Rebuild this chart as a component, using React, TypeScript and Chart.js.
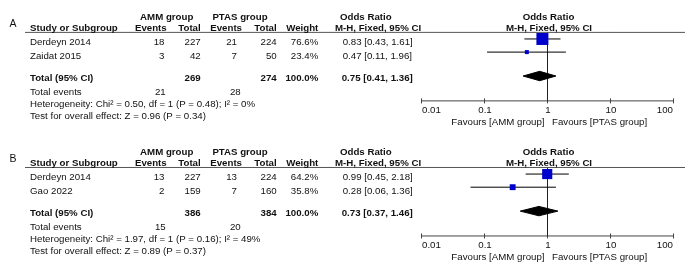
import React, { useEffect, useRef } from 'react';
import { Chart, registerables } from 'chart.js';

Chart.register(...registerables);

// ---------- Panel A data ----------
const studiesA = ['Derdeyn 2014', 'Zaidat 2015'];
const ammEventsA = [18, 3];
const ammTotalA = [227, 42];
const ptasEventsA = [21, 7];
const ptasTotalA = [224, 50];
const weightsA = [76.6, 23.4];
const oddsA = [0.83, 0.47];
const lowA = [0.43, 0.11];
const highA = [1.61, 1.96];
const pooledA = [0.75, 0.41, 1.36];
const totalsA = [269, 274];
const totalEventsA = [21, 28];
const heterogeneityA = 'Heterogeneity: Chi² = 0.50, df = 1 (P = 0.48); I² = 0%';
const overallA = 'Test for overall effect: Z = 0.96 (P = 0.34)';

// ---------- Panel B data ----------
const studiesB = ['Derdeyn 2014', 'Gao 2022'];
const ammEventsB = [13, 2];
const ammTotalB = [227, 159];
const ptasEventsB = [13, 7];
const ptasTotalB = [224, 160];
const weightsB = [64.2, 35.8];
const oddsB = [0.99, 0.28];
const lowB = [0.45, 0.06];
const highB = [2.18, 1.36];
const pooledB = [0.73, 0.37, 1.46];
const totalsB = [386, 384];
const totalEventsB = [15, 20];
const heterogeneityB = 'Heterogeneity: Chi² = 1.97, df = 1 (P = 0.16); I² = 49%';
const overallB = 'Test for overall effect: Z = 0.89 (P = 0.37)';

// ---------- Axis ----------
const axisTicks = [0.01, 0.1, 1, 10, 100];
const axisTickLabels = ['0.01', '0.1', '1', '10', '100'];
const favoursLeft = 'Favours [AMM group]';
const favoursRight = 'Favours [PTAS group]';

const panels = [
  { label: 'A', studies: studiesA, ammEvents: ammEventsA, ammTotal: ammTotalA, ptasEvents: ptasEventsA, ptasTotal: ptasTotalA, weights: weightsA, odds: oddsA, low: lowA, high: highA, pooled: pooledA, totals: totalsA, totalEvents: totalEventsA, het: heterogeneityA, overall: overallA },
  { label: 'B', studies: studiesB, ammEvents: ammEventsB, ammTotal: ammTotalB, ptasEvents: ptasEventsB, ptasTotal: ptasTotalB, weights: weightsB, odds: oddsB, low: lowB, high: highB, pooled: pooledB, totals: totalsB, totalEvents: totalEventsB, het: heterogeneityB, overall: overallB },
];

// ---------- Layout (pixel rows of the vertical layout scale) ----------
const PANEL_OFFSET = [0, 144];
const HEADER1_Y = 12.5;
const HEADER2_Y = 24;
const HEADER_LINE_Y = 25.5;
const STUDY_TEXT_Y = [39, 53.5];
const STUDY_MARK_Y = [32.5, 46.5];
const TOTAL_TEXT_Y = 77.3;
const DIAMOND_Y = 72;
const DIAMOND_HALF = 5;
const EVENTS_Y = 92;
const HET_Y = 104.8;
const TEST_Y = 118.2;
const AXIS_Y = 98.5;
const TICK_LABEL_Y = 111.5;
const FAVOURS_Y = 124;

const FONT = '"Liberation Sans", Arial, Helvetica, sans-serif';
const TEXT = '#111';
const BLUE = '#0000cc';

function buildDatasets() {
  const ds: any[] = [];
  panels.forEach((p, pi) => {
    const off = PANEL_OFFSET[pi];
    // null line at OR = 1
    ds.push({
      type: 'line', data: [{ x: 1, y: HEADER_LINE_Y + off }, { x: 1, y: AXIS_Y + off }],
      borderColor: '#222', borderWidth: 1, pointRadius: 0, order: 3, clip: false,
    });
    // axis line
    ds.push({
      type: 'line', data: [{ x: axisTicks[0], y: AXIS_Y + off }, { x: axisTicks[axisTicks.length - 1], y: AXIS_Y + off }],
      borderColor: '#444', borderWidth: 1, pointRadius: 0, order: 3, clip: false,
    });
    // axis tick marks
    ds.push({
      type: 'line', showLine: false, data: axisTicks.map((t) => ({ x: t, y: AXIS_Y + off })),
      pointStyle: 'line', pointRotation: 90, pointRadius: 2.5, pointBorderColor: '#444', pointBorderWidth: 1,
      order: 3, clip: false,
    });
    // confidence intervals
    p.odds.forEach((_, i) => {
      ds.push({
        type: 'line', data: [{ x: p.low[i], y: STUDY_MARK_Y[i] + off }, { x: p.high[i], y: STUDY_MARK_Y[i] + off }],
        borderColor: '#000', borderWidth: 1, pointRadius: 0, order: 2, clip: false,
      });
    });
    // weighted squares
    ds.push({
      type: 'line', showLine: false, data: p.odds.map((v, i) => ({ x: v, y: STUDY_MARK_Y[i] + off })),
      pointStyle: 'rect', pointRadius: p.weights.map((w) => (w * 0.15 + 0.5) / Math.SQRT2),
      pointBackgroundColor: BLUE, pointBorderColor: BLUE, pointBorderWidth: 0, order: 0, clip: false,
    });
    // pooled diamond
    const [est, lo, hi] = p.pooled;
    const y = DIAMOND_Y + off;
    ds.push({
      type: 'line',
      data: [{ x: lo, y }, { x: est, y: y - DIAMOND_HALF }, { x: hi, y }, { x: est, y: y + DIAMOND_HALF }, { x: lo, y }],
      fill: 'shape', backgroundColor: '#000', borderColor: '#000', borderWidth: 1, pointRadius: 0, tension: 0,
      order: 1, clip: false,
    });
  });
  return ds;
}

function txt(ctx: CanvasRenderingContext2D, s: string, x: number, y: number, align: CanvasTextAlign, bold = false, size = 9.7) {
  ctx.font = `${bold ? 'bold ' : ''}${size}px ${FONT}`;
  ctx.textAlign = align;
  ctx.textBaseline = 'alphabetic';
  ctx.fillStyle = TEXT;
  ctx.fillText(s, x, y);
}

const fmtCI = (o: number, l: number, h: number) => `${o.toFixed(2)} [${l.toFixed(2)}, ${h.toFixed(2)}]`;

const textPlugin = {
  id: 'forestText',
  afterDraw(chart: any) {
    const ctx: CanvasRenderingContext2D = chart.ctx;
    const xs = chart.scales.x;
    const ys = chart.scales.y;
    const x1 = xs.getPixelForValue(1);
    ctx.save();
    panels.forEach((p, pi) => {
      const off = PANEL_OFFSET[pi];
      const Y = (v: number) => ys.getPixelForValue(v + off);
      // panel letter
      txt(ctx, p.label, 9.5, Y(19.5), 'left', false, 10.5);
      // header line
      ctx.strokeStyle = '#555';
      ctx.lineWidth = 1;
      ctx.beginPath();
      ctx.moveTo(25, Y(HEADER_LINE_Y));
      ctx.lineTo(685, Y(HEADER_LINE_Y));
      ctx.stroke();
      // header row 1
      txt(ctx, 'AMM group', 166.7, Y(HEADER1_Y), 'center', true);
      txt(ctx, 'PTAS group', 240, Y(HEADER1_Y), 'center', true);
      txt(ctx, 'Odds Ratio', 340, Y(HEADER1_Y), 'left', true);
      txt(ctx, 'Odds Ratio', x1 + 1, Y(HEADER1_Y), 'center', true);
      // header row 2
      txt(ctx, 'Study or Subgroup', 30, Y(HEADER2_Y), 'left', true);
      txt(ctx, 'Events', 166.7, Y(HEADER2_Y), 'right', true);
      txt(ctx, 'Total', 200.7, Y(HEADER2_Y), 'right', true);
      txt(ctx, 'Events', 242, Y(HEADER2_Y), 'right', true);
      txt(ctx, 'Total', 276.7, Y(HEADER2_Y), 'right', true);
      txt(ctx, 'Weight', 318.3, Y(HEADER2_Y), 'right', true);
      txt(ctx, 'M-H, Fixed, 95% CI', 335, Y(HEADER2_Y), 'left', true);
      txt(ctx, 'M-H, Fixed, 95% CI', x1 + 1.5, Y(HEADER2_Y), 'center', true);
      // study rows
      p.studies.forEach((s, i) => {
        const yy = Y(STUDY_TEXT_Y[i]);
        txt(ctx, s, 30, yy, 'left');
        txt(ctx, String(p.ammEvents[i]), 164.5, yy, 'right');
        txt(ctx, String(p.ammTotal[i]), 200.7, yy, 'right');
        txt(ctx, String(p.ptasEvents[i]), 237, yy, 'right');
        txt(ctx, String(p.ptasTotal[i]), 276.7, yy, 'right');
        txt(ctx, `${p.weights[i].toFixed(1)}%`, 318.3, yy, 'right');
        txt(ctx, fmtCI(p.odds[i], p.low[i], p.high[i]), 342.7, yy, 'left');
      });
      // total row
      const ty = Y(TOTAL_TEXT_Y);
      txt(ctx, 'Total (95% CI)', 30, ty, 'left', true);
      txt(ctx, String(p.totals[0]), 200.7, ty, 'right', true);
      txt(ctx, String(p.totals[1]), 276.7, ty, 'right', true);
      const wsum = p.weights.reduce((a, b) => a + b, 0);
      txt(ctx, `${wsum.toFixed(1)}%`, 318.3, ty, 'right', true);
      txt(ctx, fmtCI(p.pooled[0], p.pooled[1], p.pooled[2]), 341.7, ty, 'left', true);
      // total events
      const ey = Y(EVENTS_Y);
      txt(ctx, 'Total events', 30, ey, 'left');
      txt(ctx, String(p.totalEvents[0]), 165.7, ey, 'right');
      txt(ctx, String(p.totalEvents[1]), 240.7, ey, 'right');
      txt(ctx, p.het, 30, Y(HET_Y), 'left');
      txt(ctx, p.overall, 30, Y(TEST_Y), 'left');
      // tick labels
      axisTicks.forEach((t, i) => {
        const align: CanvasTextAlign = i === 0 ? 'left' : i === axisTicks.length - 1 ? 'right' : 'center';
        const px = xs.getPixelForValue(t) + (i === 0 ? 0.5 : i === axisTicks.length - 1 ? -0.5 : 0.5);
        txt(ctx, axisTickLabels[i], px, Y(TICK_LABEL_Y), align);
      });
      txt(ctx, favoursLeft, x1 - 3, Y(FAVOURS_Y), 'right');
      txt(ctx, favoursRight, x1 + 4.5, Y(FAVOURS_Y), 'left');
    });
    ctx.restore();
  },
};

export default function App() {
  const ref = useRef<HTMLCanvasElement>(null);
  useEffect(() => {
    document.body.style.margin = '0';
    const chart = new Chart(ref.current as HTMLCanvasElement, {
      type: 'line',
      data: { datasets: buildDatasets() },
      options: {
        animation: false,
        responsive: false,
        maintainAspectRatio: false,
        devicePixelRatio: 1,
        events: [],
        layout: { padding: { left: 421.5, right: 11.5, top: 0, bottom: 0 } },
        scales: {
          x: { type: 'logarithmic', min: axisTicks[0], max: axisTicks[axisTicks.length - 1], display: false },
          y: { type: 'linear', min: 0, max: 274, reverse: true, display: false },
        },
        plugins: { legend: { display: false }, tooltip: { enabled: false } },
      },
      plugins: [textPlugin],
    } as any);
    return () => chart.destroy();
  }, []);
  return (
    <div style={{ width: 685, height: 274, background: '#fff' }}>
      <canvas ref={ref} width={685} height={274} style={{ display: 'block', width: 685, height: 274 }} />
    </div>
  );
}
